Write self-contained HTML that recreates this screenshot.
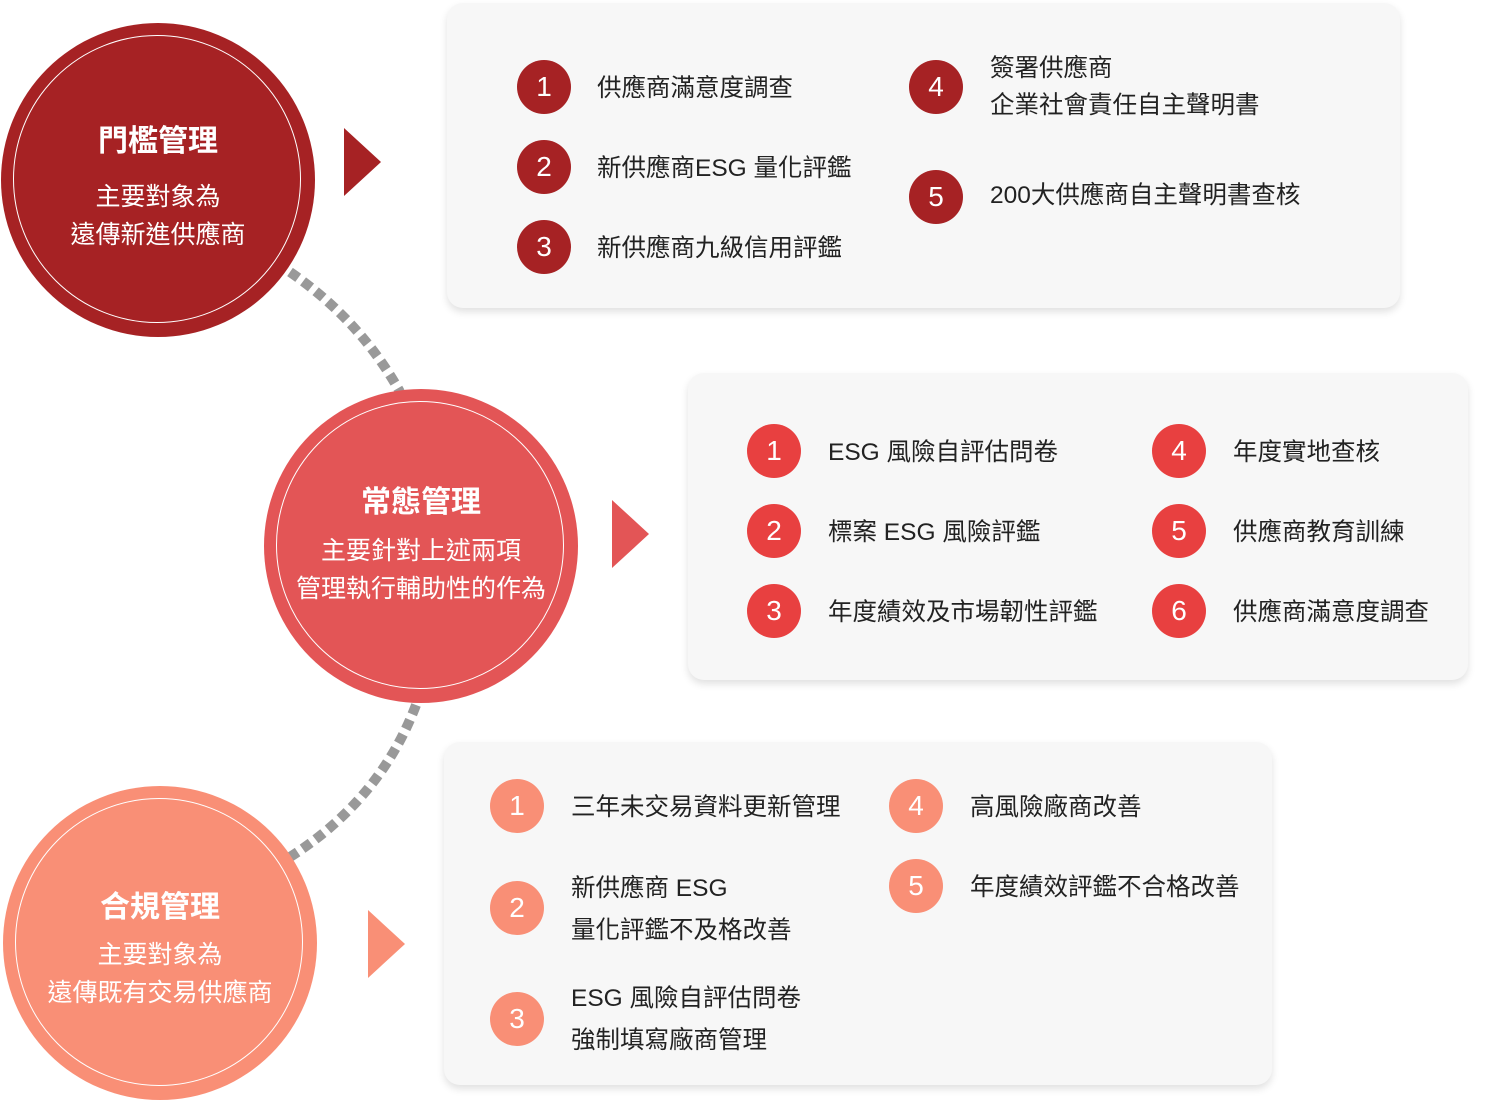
<!DOCTYPE html>
<html><head><meta charset="utf-8"><style>
body{margin:0;width:1485px;height:1110px;background:#fff;position:relative;overflow:hidden;font-family:"Liberation Sans","Noto Sans CJK TC",sans-serif}
.box{position:absolute;background:#f7f7f7;border-radius:16px;box-shadow:0 4px 8px rgba(0,0,0,0.12)}
.c{position:absolute;border-radius:50%;width:314px;height:314px}
.c .ring{position:absolute;left:12px;top:12px;width:288px;height:288px;border:1.5px solid #fff;border-radius:50%;box-sizing:border-box}
.ct{position:absolute;left:0;width:314px;text-align:center;color:#fff}
.n{position:absolute;width:54px;height:54px;border-radius:50%;color:#fff;font-size:28px;line-height:54px;text-align:center}
.t{position:absolute;font-size:24.5px;color:#222;line-height:38px;white-space:nowrap;transform:translateY(-17px)}
.tri{position:absolute;width:0;height:0;border-top:34px solid transparent;border-bottom:34px solid transparent;border-left:37px solid}
</style></head><body>
<svg style="position:absolute;left:0;top:0" width="1485" height="1110">
<path d="M290 272 Q360 320 400 392" fill="none" stroke="#999" stroke-width="10" stroke-dasharray="10 6"/>
<path d="M416 705 Q380 800 290 857" fill="none" stroke="#999" stroke-width="10" stroke-dasharray="10 6"/>
</svg>
<div class="box" style="left:447px;top:3px;width:953px;height:305px"></div>
<div class="box" style="left:688px;top:373px;width:780px;height:307px"></div>
<div class="box" style="left:444px;top:742px;width:828px;height:343px"></div>

<div class="c" style="left:1px;top:23px;background:#a62224"><div class="ring"></div>
<div class="ct" style="top:93px;font-size:30px;font-weight:bold">門檻管理</div>
<div class="ct" style="top:155px;font-size:25px;line-height:38px">主要對象為<br>遠傳新進供應商</div></div>
<div class="c" style="left:264px;top:389px;background:#e35556"><div class="ring"></div>
<div class="ct" style="top:88px;font-size:30px;font-weight:bold">常態管理</div>
<div class="ct" style="top:143px;font-size:25px;line-height:38px">主要針對上述兩項<br>管理執行輔助性的作為</div></div>
<div class="c" style="left:3px;top:786px;background:#f98f76"><div class="ring"></div>
<div class="ct" style="top:96px;font-size:30px;font-weight:bold">合規管理</div>
<div class="ct" style="top:150px;font-size:25px;line-height:38px">主要對象為<br>遠傳既有交易供應商</div></div>

<div class="tri" style="left:344px;top:128px;border-left-color:#a62224"></div>
<div class="tri" style="left:612px;top:500px;border-left-color:#e35556"></div>
<div class="tri" style="left:368px;top:910px;border-left-color:#f98f76"></div>

<!-- box1 -->
<div class="n" style="left:517px;top:60px;background:#a62224">1</div><div class="t" style="left:597px;top:87px">供應商滿意度調查</div>
<div class="n" style="left:517px;top:140px;background:#a62224">2</div><div class="t" style="left:597px;top:167px">新供應商ESG 量化評鑑</div>
<div class="n" style="left:517px;top:220px;background:#a62224">3</div><div class="t" style="left:597px;top:247px">新供應商九級信用評鑑</div>
<div class="n" style="left:909px;top:60px;background:#a62224">4</div><div class="t" style="left:990px;top:67px">簽署供應商</div><div class="t" style="left:990px;top:104px">企業社會責任自主聲明書</div>
<div class="n" style="left:909px;top:170px;background:#a62224">5</div><div class="t" style="left:990px;top:194px">200大供應商自主聲明書查核</div>
<!-- box2 -->
<div class="n" style="left:747px;top:424px;background:#e84040">1</div><div class="t" style="left:828px;top:451px">ESG 風險自評估問卷</div>
<div class="n" style="left:747px;top:504px;background:#e84040">2</div><div class="t" style="left:828px;top:531px">標案 ESG 風險評鑑</div>
<div class="n" style="left:747px;top:584px;background:#e84040">3</div><div class="t" style="left:828px;top:611px">年度績效及市場韌性評鑑</div>
<div class="n" style="left:1152px;top:424px;background:#e84040">4</div><div class="t" style="left:1233px;top:451px">年度實地查核</div>
<div class="n" style="left:1152px;top:504px;background:#e84040">5</div><div class="t" style="left:1233px;top:531px">供應商教育訓練</div>
<div class="n" style="left:1152px;top:584px;background:#e84040">6</div><div class="t" style="left:1233px;top:611px">供應商滿意度調查</div>
<!-- box3 -->
<div class="n" style="left:490px;top:779px;background:#f98f76">1</div><div class="t" style="left:571px;top:806px">三年未交易資料更新管理</div>
<div class="n" style="left:490px;top:881px;background:#f98f76">2</div><div class="t" style="left:571px;top:887px">新供應商 ESG</div><div class="t" style="left:571px;top:929px">量化評鑑不及格改善</div>
<div class="n" style="left:490px;top:992px;background:#f98f76">3</div><div class="t" style="left:571px;top:997px">ESG 風險自評估問卷</div><div class="t" style="left:571px;top:1039px">強制填寫廠商管理</div>
<div class="n" style="left:889px;top:779px;background:#f98f76">4</div><div class="t" style="left:970px;top:806px">高風險廠商改善</div>
<div class="n" style="left:889px;top:859px;background:#f98f76">5</div><div class="t" style="left:970px;top:886px">年度績效評鑑不合格改善</div>
</body></html>
